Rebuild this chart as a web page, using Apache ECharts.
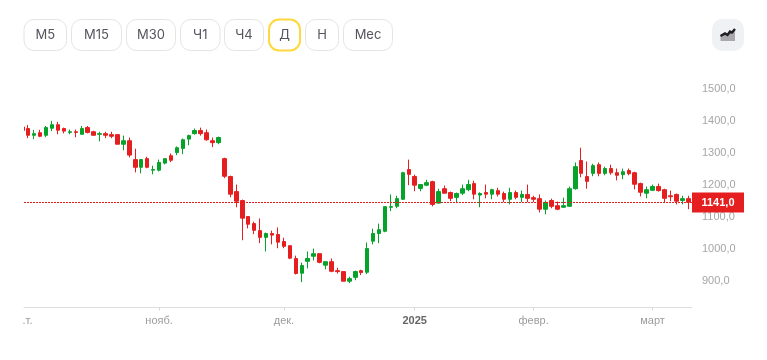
<!DOCTYPE html>
<html>
<head>
<meta charset="utf-8">
<style>
  html, body { margin: 0; padding: 0; background: #fff; }
  #chart { width: 767px; height: 360px; }
</style>
<script src="https://cdn.jsdelivr.net/npm/echarts@6/dist/echarts.min.js"></script>
</head>
<body>
<div id="chart"></div>
<script>
// daily candles, one entry per trading day
const opens = [1377,1372,1351,1359,1351,1373,1384,1372,1360,1362,1354,1375,1362,1354,1356,1353,1353,1323,1334,1275,1251,1278,1242,1242,1264,1287,1297,1310,1339,1356,1366,1359,1334,1328,
  1278,1222,1175,1147,1097,1075,1053,1032,1044,1041,1019,1006,966,920,957,973,981,945,956,928,925,895,907,928,923,1020,1044,1051,
  1126,1129,1151,1244,1222,1185,1195,1206,1139,1184,1172,1157,1170,1181,1200,1164,1172,1167,1178,1169,1151,1172,1157,1166,1156,1153,1120,1147,1131,1126,1129,
  1184,1272,1222,1232,1259,1232,1247,1234,1228,1241,1234,1200,1170,1179,1191,1181,1162,1166,1147,1153];
const closes = [1366,1351,1356,1348,1375,1384,1367,1364,1362,1360,1372,1360,1351,1356,1351,1348,1323,1334,1289,1251,1275,1251,1244,1266,1278,1273,1312,1337,1350,1366,1356,1337,1328,1344,
  1223,1167,1145,1092,1073,1054,1032,1044,1039,1017,1004,967,919,944,966,981,954,956,926,925,895,903,925,922,997,1044,1056,1128,
  1128,1153,1234,1229,1195,1197,1203,1135,1175,1170,1154,1169,1184,1197,1167,1169,1167,1181,1167,1151,1172,1157,1166,1154,1151,1120,1141,1129,1120,1131,1184,
  1253,1232,1207,1256,1232,1247,1234,1226,1237,1231,1198,1173,1181,1191,1178,1154,1159,1145,1153,1142];
const lows = [1366,1342,1339,1345,1345,1364,1354,1357,1354,1345,1354,1357,1351,1332,1342,1342,1323,1304,1282,1235,1232,1248,1229,1238,1260,1267,1289,1292,1320,1353,1350,1334,1314,1323,
  1217,1157,1126,1023,1060,1042,1014,988,1010,998,998,964,916,892,935,960,951,932,923,919,895,889,898,914,917,1010,1014,1048,
  1114,1123,1150,1195,1176,1176,1192,1129,1137,1170,1145,1139,1164,1176,1151,1126,1154,1151,1160,1142,1135,1151,1142,1142,1142,1110,1104,1123,1117,1125,1128,
  1181,1220,1184,1223,1223,1226,1228,1210,1214,1226,1182,1160,1154,1178,1175,1142,1145,1135,1135,1120];
const highs = [1377,1383,1368,1368,1380,1396,1393,1375,1369,1369,1380,1380,1365,1362,1362,1362,1353,1350,1344,1309,1277,1284,1256,1275,1278,1294,1316,1341,1353,1372,1375,1369,1344,1347,
  1281,1225,1197,1150,1097,1081,1091,1047,1053,1063,1031,1006,975,953,988,997,981,956,966,937,925,909,928,931,1016,1059,1075,1128,
  1166,1162,1237,1275,1228,1197,1212,1209,1184,1194,1175,1172,1197,1212,1209,1173,1197,1184,1187,1175,1187,1178,1178,1197,1162,1166,1147,1153,1144,1156,1191,
  1266,1312,1269,1262,1266,1253,1259,1247,1247,1247,1237,1203,1191,1197,1200,1184,1178,1169,1162,1162];

const lastPrice = 1141;
const priceTicks = [900, 1000, 1100, 1200, 1300, 1400, 1500];
const monthTicks = [23, 44, 66, 86, 106];
const monthLabelAt = [0.87, 23, 44, 66, 86, 106];
const monthLabels = [".т.", "нояб.", "дек.", "2025", "февр.", "март"];
const periods = ["М5", "М15", "М30", "Ч1", "Ч4", "Д", "Н", "Мес"];
const periodEdges = [[24, 66.5], [71.5, 121.5], [126.5, 175.5], [180.5, 220], [224.5, 263.5], [269, 300], [305.5, 338.5], [343.5, 392.5]];
const activePeriod = "Д";

const FONT = "'Liberation Sans', Arial, sans-serif";
const RED = "#e51f1f";
const GREEN = "#06a32b";

const fmtPrice = (v) => v.toFixed(1).replace(".", ",");

const chart = echarts.init(document.getElementById("chart"), null, { renderer: "canvas" });

const buttons = periods.flatMap((name, i) => {
    const [x0, x1] = periodEdges[i];
    const on = name === activePeriod;
    return [
        {
            type: "rect",
            shape: { x: x0, y: 19.5, width: x1 - x0, height: 31, r: 10 },
            style: { fill: "#fff", stroke: on ? "#ffd83d" : "#e4e4e4", lineWidth: on ? 2 : 1 }
        },
        {
            type: "text",
            x: (x0 + x1) / 2,
            y: 35,
            style: { text: name, fill: "#55555f", font: "13px Inter, sans-serif", align: "center", verticalAlign: "middle" }
        }
    ];
});

const chartTypeIcon = [
    { type: "rect", shape: { x: 712, y: 19, width: 32, height: 32, r: 10 }, style: { fill: "#f0f1f5" } },
    {
        type: "polygon",
        shape: { points: [[720.5, 36], [725, 33.5], [727.5, 35], [730, 31.5], [732, 32.5], [735, 29], [735, 41], [720.5, 41]] },
        style: { fill: "#a9a9ad" }
    },
    {
        type: "polyline",
        shape: { points: [[720.5, 36], [725, 33.5], [727.5, 35], [730, 31.5], [732, 32.5], [735, 29]] },
        style: { stroke: "#1d1d22", lineWidth: 2.4, fill: null }
    }
];

// the first candle is cut by the plot edge, candlestick does not clip it by itself
const leftEdgeMask = {
    type: "rect",
    z: 100,
    shape: { x: 10, y: 100, width: 14, height: 60 },
    style: { fill: "#fff" }
};

chart.setOption({
    animation: false,
    backgroundColor: "#fff",
    graphic: buttons.concat(chartTypeIcon, [leftEdgeMask]),
    grid: { left: 24, top: 75.6, width: 668, height: 232 },
    xAxis: {
        type: "value",
        min: 0.286,
        max: 112.63,
        splitLine: { show: false },
        axisLine: { show: true, lineStyle: { color: "#dedede" } },
        axisTick: { show: true, length: 3, lineStyle: { color: "#d8d8d8" }, customValues: monthTicks },
        axisLabel: {
            customValues: monthLabelAt,
            margin: 8,
            color: "#9c9c9c",
            fontFamily: FONT,
            fontSize: 11,
            hideOverlap: false,
            formatter: (v) => {
                const t = monthLabels[monthLabelAt.indexOf(v)];
                return t === "2025" ? "{y|2025}" : t;
            },
            rich: { y: { color: "#666", fontWeight: 700, fontFamily: FONT, fontSize: 11 } }
        }
    },
    yAxis: {
        type: "value",
        position: "right",
        min: 812.5,
        max: 1537.5,
        splitLine: { show: false },
        axisLine: { show: false },
        axisTick: { show: false },
        axisLabel: {
            customValues: priceTicks,
            margin: 10,
            color: "#a6a6a6",
            fontFamily: FONT,
            fontSize: 11,
            verticalAlign: "top",
            lineHeight: 2,
            formatter: fmtPrice
        }
    },
    series: [{
        type: "candlestick",
        barWidth: 4,
        encode: { x: 0, y: [1, 2, 3, 4] },
        data: opens.map((o, i) => [i, o, closes[i], lows[i], highs[i]]),
        itemStyle: { color: GREEN, color0: RED, borderColor: GREEN, borderColor0: RED, borderWidth: 1 },
        markLine: {
            silent: true,
            symbol: "none",
            animation: false,
            precision: 1,
            data: [{
                yAxis: lastPrice,
                lineStyle: { color: RED, type: [2, 1], width: 1, opacity: 1 },
                label: {
                    position: "end",
                    distance: 0,
                    align: "left",
                    formatter: "{tag|" + fmtPrice(lastPrice) + "}",
                    rich: {
                        tag: {
                            width: 52,
                            height: 20,
                            lineHeight: 20,
                            align: "center",
                            color: "#fff",
                            backgroundColor: RED,
                            fontFamily: FONT,
                            fontWeight: 700,
                            fontSize: 11
                        }
                    }
                }
            }]
        }
    }]
});

window.addEventListener("resize", () => chart.resize());
</script>
</body>
</html>
